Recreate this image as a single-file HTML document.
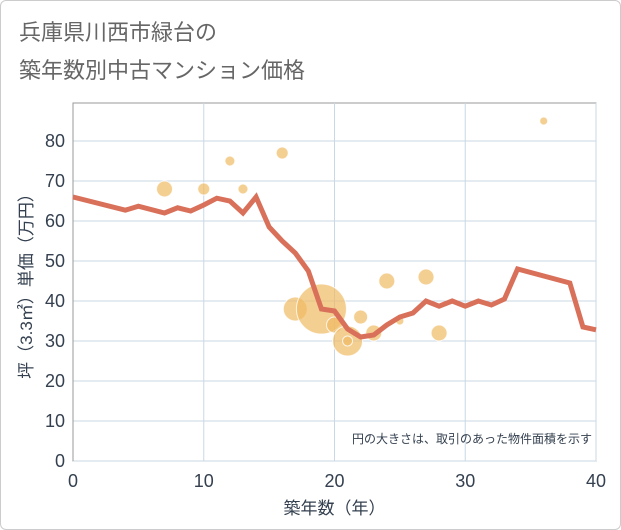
<!DOCTYPE html>
<html><head><meta charset="utf-8"><style>
body{margin:0;background:#fff}
#wrap{position:relative;width:619px;height:528px;border:1px solid #ccc;border-radius:6px;overflow:hidden;background:#fff}
.title{position:absolute;left:18px;font:22px "Liberation Sans","Noto Sans CJK JP",sans-serif;color:#666}
svg text{font-family:"Liberation Sans","Noto Sans CJK JP",sans-serif}
</style></head><body>
<div id="wrap">
<div class="title" style="top:14px">兵庫県川西市緑台の</div>
<div class="title" style="top:52px">築年数別中古マンション価格</div>
<svg id="chart" width="621" height="530" style="position:absolute;left:-1px;top:-1px"></svg>
</div>
<script>
const xTicks=[0,10,20,30,40];
const yTicks=[0,10,20,30,40,50,60,70,80];
const lineYears=[0,4,5,7,8,9,10,11,12,13,14,15,16,17,18,19,20,21,22,23,24,25,26,27,28,29,30,31,32,33,34,38,39,40];
const lineValues=[66,62.7,63.7,62,63.3,62.5,64,65.7,65,62,66,58.5,55,52,47.5,38,37.5,33,31,31.5,34,36,37,40,38.7,40,38.7,40,39,40.5,48,44.5,33.5,32.8];
const bubbleYears=[7,10,12,13,16,17,19,20,21,21,22,23,24,25,27,28,36];
const bubbleValues=[68,68,75,68,77,38,38,34,30,30,36,32,45,35,46,32,85];
const bubbleSizes=[8,6,5,5,6,12,25,8,15,5,7,8,8,4,8,8,4];
const NS='http://www.w3.org/2000/svg';
const svg=document.getElementById('chart');
const X0=73,X1=596,Y0=461,Y1=141;
const xs=v=>X0+(v-0)/40*(X1-X0);
const ys=v=>Y0-(v/80)*(Y0-Y1);
function mk(t,a){const e=document.createElementNS(NS,t);for(const k in a)e.setAttribute(k,a[k]);svg.appendChild(e);return e;}
const plot=mk('rect',{x:X0,y:103,width:X1-X0,height:Y0-103,fill:'#fff',stroke:'#999','stroke-width':1});


yTicks.forEach(v=>{
 const g=mk('line',{x1:X0,x2:X1,y1:ys(v),y2:ys(v),stroke:'#c9d8e6','stroke-width':1});
 
 
 const t=mk('text',{x:X0-8,y:ys(v)+6,'text-anchor':'end','font-size':18,fill:'#34404f'});
 t.textContent=v;
 
 
});
xTicks.forEach(v=>{
 const g=mk('line',{x1:xs(v),x2:xs(v),y1:103,y2:Y0,stroke:'#c9d8e6','stroke-width':1});
 
 
 const t=mk('text',{x:xs(v),y:Y0+26,'text-anchor':'middle','font-size':18,fill:'#34404f'});
 t.textContent=v;
 
 
});
const ax=mk('line',{x1:X0,x2:X0,y1:103,y2:Y0,stroke:'#999','stroke-width':1});


bubbleYears.forEach((yr,i)=>{
 const c=mk('circle',{cx:xs(yr),cy:ys(bubbleValues[i]),r:bubbleSizes[i],fill:'rgba(240,186,100,0.7)',stroke:'rgba(255,255,255,0.8)','stroke-width':1});
 
 
});
const pts=lineYears.map((y,i)=>xs(y)+','+ys(lineValues[i])).join(' ');
const pl=mk('polyline',{points:pts,fill:'none',stroke:'#d9705a','stroke-width':5,'stroke-linejoin':'miter'});


const note=mk('text',{x:592,y:443,'text-anchor':'end','font-size':12,fill:'#34404f'});
note.textContent='円の大きさは、取引のあった物件面積を示す';


const xt=mk('text',{x:(X0+X1)/2,y:514,'text-anchor':'middle','font-size':17,fill:'#34404f'});
xt.textContent='築年数（年）';


const yt=mk('text',{x:0,y:0,'text-anchor':'middle','font-size':17,fill:'#34404f',transform:'translate(32,'+((103+Y0)/2)+') rotate(-90)'});
yt.textContent='坪（3.3㎡）単価（万円）';


</script>
</body></html>
